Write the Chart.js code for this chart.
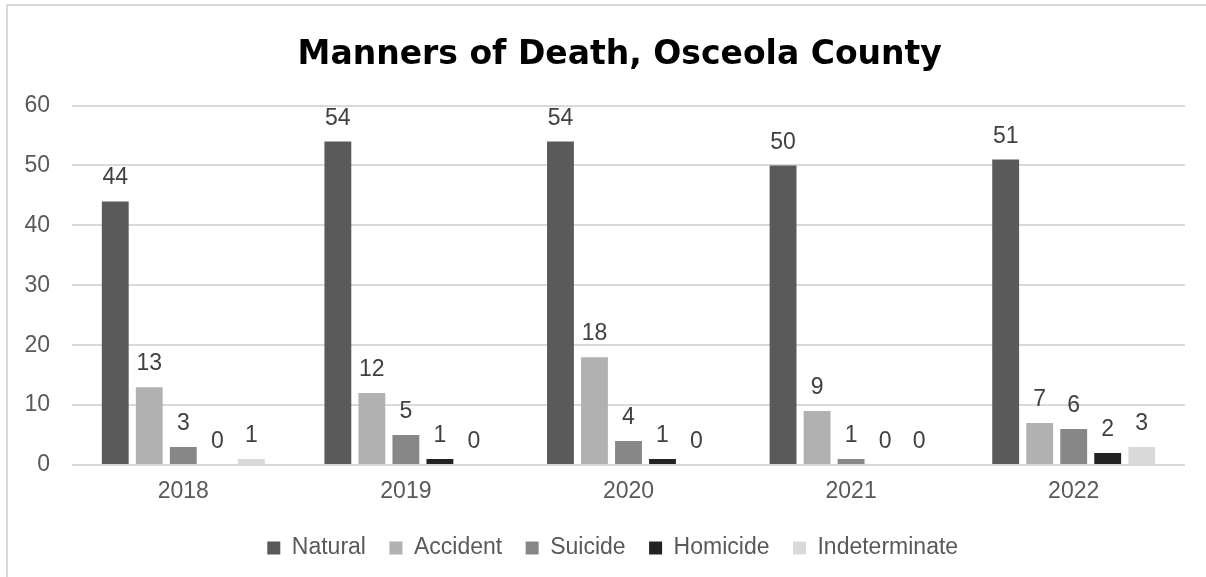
<!DOCTYPE html>
<html>
<head>
<meta charset="utf-8">
<script src="https://cdn.jsdelivr.net/npm/chart.js@4"></script>
<style>
html,body{margin:0;padding:0;background:#fff;overflow:hidden}
#wrap{position:relative;width:1206px;height:577px;overflow:hidden;background:#fff}
#lineTop{position:absolute;left:6px;top:4px;width:1200px;height:2px;background:#d9d9d9}
#lineLeft{position:absolute;left:6px;top:4px;width:2px;height:573px;background:#d9d9d9}
#c{position:absolute;left:0;top:0}
</style>
</head>
<body>
<div id="wrap">
<div id="lineTop"></div>
<div id="lineLeft"></div>
<canvas id="c" width="1206" height="577"></canvas>
</div>
<script>
const categories = ['2018', '2019', '2020', '2021', '2022'];
const natural = [44, 54, 54, 50, 51];
const accident = [13, 12, 18, 9, 7];
const suicide = [3, 5, 4, 1, 6];
const homicide = [0, 1, 1, 0, 2];
const indeterminate = [1, 0, 0, 0, 3];
const yTicks = [0, 10, 20, 30, 40, 50, 60];

const FONT = '"Liberation Sans", Arial, sans-serif';

const valueLabels = {
  id: 'valueLabels',
  afterDatasetsDraw(chart) {
    const ctx = chart.ctx;
    ctx.save();
    ctx.font = '23px ' + FONT;
    ctx.fillStyle = '#404040';
    ctx.textAlign = 'center';
    ctx.textBaseline = 'alphabetic';
    chart.data.datasets.forEach((ds, i) => {
      const meta = chart.getDatasetMeta(i);
      meta.data.forEach((el, j) => {
        ctx.fillText(String(ds.data[j]), el.x, el.y - 17);
      });
    });
    ctx.restore();
  }
};

const boxNudge = {
  id: 'boxNudge',
  afterLayout(chart) {
    const t = chart.titleBlock;
    if (t) { t.left += 26; t.right += 26; }
    const l = chart.legend;
    if (l) { l.left += 19; l.right += 19; l.top -= 5.5; l.bottom -= 5.5; }
  }
};

new Chart(document.getElementById('c'), {
  type: 'bar',
  data: {
    labels: categories,
    datasets: [
      { label: 'Natural', data: natural, backgroundColor: '#5a5a5a' },
      { label: 'Accident', data: accident, backgroundColor: '#b1b1b1' },
      { label: 'Suicide', data: suicide, backgroundColor: '#878787' },
      { label: 'Homicide', data: homicide, backgroundColor: '#222222' },
      { label: 'Indeterminate', data: indeterminate, backgroundColor: '#d9d9d9' }
    ]
  },
  options: {
    responsive: false,
    animation: false,
    devicePixelRatio: 1,
    categoryPercentage: 0.764,
    barPercentage: 0.79,
    layout: { padding: { left: 2.4, right: 21, top: 0, bottom: 1.9 } },
    plugins: {
      tooltip: { enabled: false },
      title: {
        display: true,
        text: 'Manners of Death, Osceola County',
        color: '#000000',
        font: { family: '"DejaVu Sans", sans-serif', size: 33, weight: 'bold' },
        padding: { top: 36, bottom: 30 }
      },
      legend: {
        position: 'bottom',
        labels: {
          color: '#595959',
          font: { family: FONT, size: 23 },
          boxWidth: 13,
          boxHeight: 13,
          padding: 23.5
        }
      }
    },
    scales: {
      x: {
        grid: { display: false, drawTicks: false },
        border: { display: false },
        ticks: {
          color: '#595959',
          padding: 13,
          font: { family: FONT, size: 23 }
        }
      },
      y: {
        min: 0,
        max: 60,
        afterBuildTicks(axis) { axis.ticks = yTicks.map(v => ({ value: v })); },
        grid: { color: '#d9d9d9', lineWidth: 2, drawTicks: false },
        border: { display: false },
        ticks: {
          color: '#595959',
          padding: 22,
          font: { family: FONT, size: 23 }
        }
      }
    }
  },
  plugins: [valueLabels, boxNudge]
});
</script>
</body>
</html>
